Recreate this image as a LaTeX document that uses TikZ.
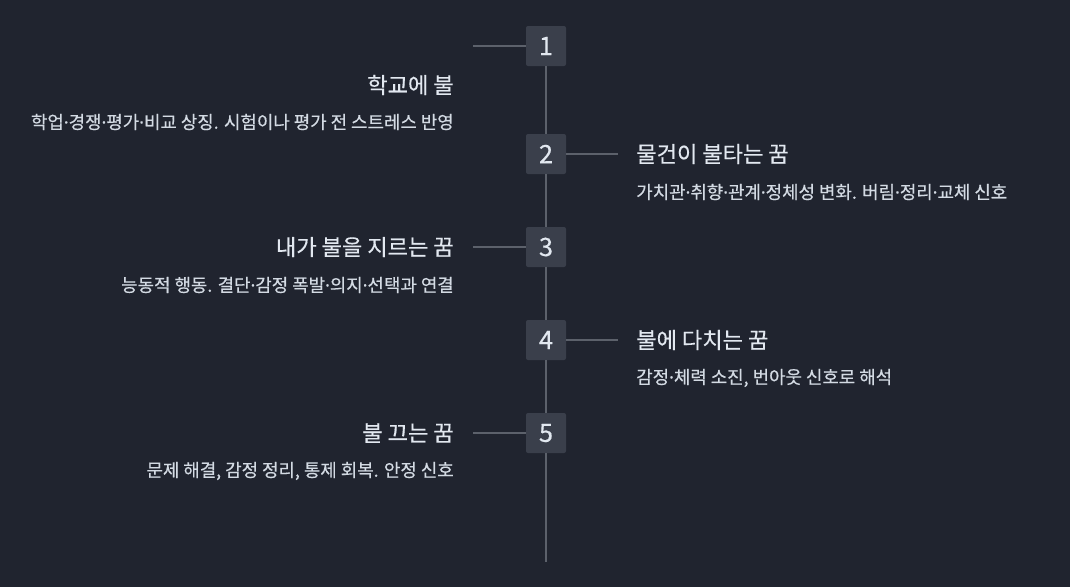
\documentclass[tikz,border=0pt]{standalone}
\usepackage{fontspec}
\setmainfont[FakeBold=0.4]{Noto Sans CJK KR}
\newfontfamily\punktschrift[FakeBold=0.4]{Noto Sans}
\newcommand{\pk}{{\punktschrift ·}}
\usetikzlibrary{positioning}
\definecolor{grund}{HTML}{20242F}
\definecolor{kasten}{HTML}{3A3F4B}
\definecolor{strich}{HTML}{5C616B}
\definecolor{schrift}{HTML}{E2E8F0}
\definecolor{schriftb}{HTML}{D3DAE3}

\begin{document}
\begin{tikzpicture}[x=0.75pt, y=-0.75pt,
	nummer/.style={rectangle, fill=kasten, minimum size=30pt, inner sep=0pt, rounded corners=1.5pt, text=schrift, font=\fontsize{19}{22}\selectfont},
	titel/.style={inner sep=0pt, text=schrift, font=\fontsize{16.6}{19}\selectfont},
	info/.style={inner sep=0pt, text=schriftb, font=\fontsize{13.4}{16}\selectfont},
	verb/.style={draw=strich, line width=1.5pt}]
	
	\fill[grund] (0,0) rectangle (1070,587);
	\useasboundingbox (0,0) rectangle (1070,587);
	
	% Zeitleiste
	\node[nummer] (n1) at (546,46) {1};
	\node[nummer] (n2) at (546,154) {2};
	\node[nummer] (n3) at (546,247) {3};
	\node[nummer] (n4) at (546,340) {4};
	\node[nummer] (n5) at (546,433) {5};
	\coordinate (ende) at (546,562);
	
	\draw[verb] (n1) -- (n2);
	\draw[verb] (n2) -- (n3);
	\draw[verb] (n3) -- (n4);
	\draw[verb] (n4) -- (n5);
	\draw[verb] (n5) -- (ende);
	
	% Seitenlinien
	\coordinate (s1) at (473,46);
	\coordinate (s2) at (618,154);
	\coordinate (s3) at (473,247);
	\coordinate (s4) at (618,340);
	\coordinate (s5) at (473,433);
	\foreach \i in {1,...,5}
		\draw[verb] (n\i) -- (s\i);
	
	% Texte links
	\node[titel, anchor=east] (t1) at (454,85) {학교에 불};
	\node[info, anchor=east] (d1) at (454,122) {학업\pk 경쟁\pk 평가\pk 비교 상징. 시험이나 평가 전 스트레스 반영};
	\node[titel, anchor=east] (t3) at (454,247) {내가 불을 지르는 꿈};
	\node[info, anchor=east] (d3) at (454,285) {능동적 행동. 결단\pk 감정 폭발\pk 의지\pk 선택과 연결};
	\node[titel, anchor=east] (t5) at (454,433) {불 끄는 꿈};
	\node[info, anchor=east] (d5) at (454,471) {문제 해결, 감정 정리, 통제 회복. 안정 신호};
	
	% Texte rechts
	\node[titel, anchor=west] (t2) at (636,154) {물건이 불타는 꿈};
	\node[info, anchor=west] (d2) at (636,192) {가치관\pk 취향\pk 관계\pk 정체성 변화. 버림\pk 정리\pk 교체 신호};
	\node[titel, anchor=west] (t4) at (636,340) {불에 다치는 꿈};
	\node[info, anchor=west] (d4) at (636,378) {감정\pk 체력 소진, 번아웃 신호로 해석};
	
\end{tikzpicture}
\end{document}
